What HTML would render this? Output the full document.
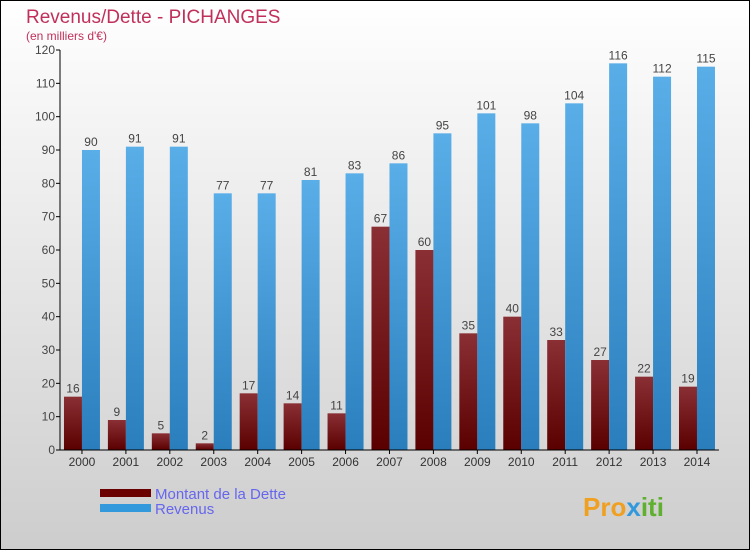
<!DOCTYPE html>
<html><head><meta charset="utf-8"><style>
html,body{margin:0;padding:0}
body{width:750px;height:550px;overflow:hidden;font-family:"Liberation Sans",sans-serif}
</style></head><body>
<svg id="chart" width="750" height="550" xmlns="http://www.w3.org/2000/svg">
<defs>
<linearGradient id="bg" x1="0" y1="0" x2="0" y2="1"><stop offset="0" stop-color="#ffffff"/><stop offset="1" stop-color="#cdcdcd"/></linearGradient>
<linearGradient id="gRed" x1="0" y1="0" x2="0" y2="1"><stop offset="0" stop-color="#8a3035"/><stop offset="1" stop-color="#5a0000"/></linearGradient>
<linearGradient id="gBlue" x1="0" y1="0" x2="0" y2="1"><stop offset="0" stop-color="#5aaee8"/><stop offset="1" stop-color="#2a7ebc"/></linearGradient>
</defs>
<rect x="0.5" y="0.5" width="749" height="549" fill="url(#bg)" stroke="#000"/>
<text x="26" y="23" font-size="19" fill="#c0305a">Revenus/Dette - PICHANGES</text>
<text x="26" y="40" font-size="12" fill="#c0305a">(en milliers d'€)</text>
<g id="marks"></g>
<g id="axes"></g>
<rect x="100" y="489" width="51" height="8" fill="#6a0000"/>
<rect x="100" y="504" width="51" height="8" fill="#3399dd"/>
<text x="155" y="499" font-size="15" fill="#6666ee">Montant de la Dette</text>
<text x="155" y="514" font-size="15" fill="#6666ee">Revenus</text>
<text x="583" y="516" font-size="26" font-weight="bold" fill="#f0a020">Pro<tspan fill="#3399dd">x</tspan><tspan fill="#60b030">iti</tspan></text>
</svg>
<script>
const years=[2000,2001,2002,2003,2004,2005,2006,2007,2008,2009,2010,2011,2012,2013,2014];
const debt=[16,9,5,2,17,14,11,67,60,35,40,33,27,22,19];
const revenue=[90,91,91,77,77,81,83,86,95,101,98,104,116,112,115];
const yTicks=[0,10,20,30,40,50,60,70,80,90,100,110,120];
const NS="http://www.w3.org/2000/svg";
const x0=60,step=43.93,y0=450,yTop=50,yMax=120;
const y=v=>y0-(v/yMax)*(y0-yTop);
const cx=i=>x0+step*(i+0.5);
function mk(t,a,p){const e=document.createElementNS(NS,t);for(const k in a)e.setAttribute(k,a[k]);p.appendChild(e);return e;}
const marks=document.getElementById('marks'),axes=document.getElementById('axes');
years.forEach((yr,i)=>{
  const c=cx(i);
  const r=mk('rect',{x:c-18,y:y(debt[i]),width:18,height:y0-y(debt[i]),fill:'url(#gRed)'},marks);
  
  
  const b=mk('rect',{x:c,y:y(revenue[i]),width:18,height:y0-y(revenue[i]),fill:'url(#gBlue)'},marks);
  
  
  const t1=mk('text',{x:c-9,y:y(debt[i])-4,'font-size':12,fill:'#444','text-anchor':'middle'},marks);t1.textContent=debt[i];
  
  
  const t2=mk('text',{x:c+9,y:y(revenue[i])-4,'font-size':12,fill:'#444','text-anchor':'middle'},marks);t2.textContent=revenue[i];
  
  
  const tk=mk('line',{x1:c,x2:c,y1:y0,y2:y0+4,stroke:'#000'},axes);
  
  
  const xl=mk('text',{x:c,y:y0+16,'font-size':12,fill:'#333','text-anchor':'middle'},axes);xl.textContent=yr;
  
  
});
yTicks.forEach(v=>{
  const l=mk('line',{x1:x0-4,x2:x0,y1:y(v),y2:y(v),stroke:'#000'},axes);
  
  
  const t=mk('text',{x:x0-5,y:y(v)+4,'font-size':12,fill:'#444','text-anchor':'end'},axes);t.textContent=v;
  
  
});
const ya=mk('line',{x1:x0,x2:x0,y1:yTop,y2:y0,stroke:'#000'},axes);


const xa=mk('line',{x1:x0-4,x2:x0+step*years.length,y1:y0,y2:y0,stroke:'#000'},axes);


</script>
</body></html>
